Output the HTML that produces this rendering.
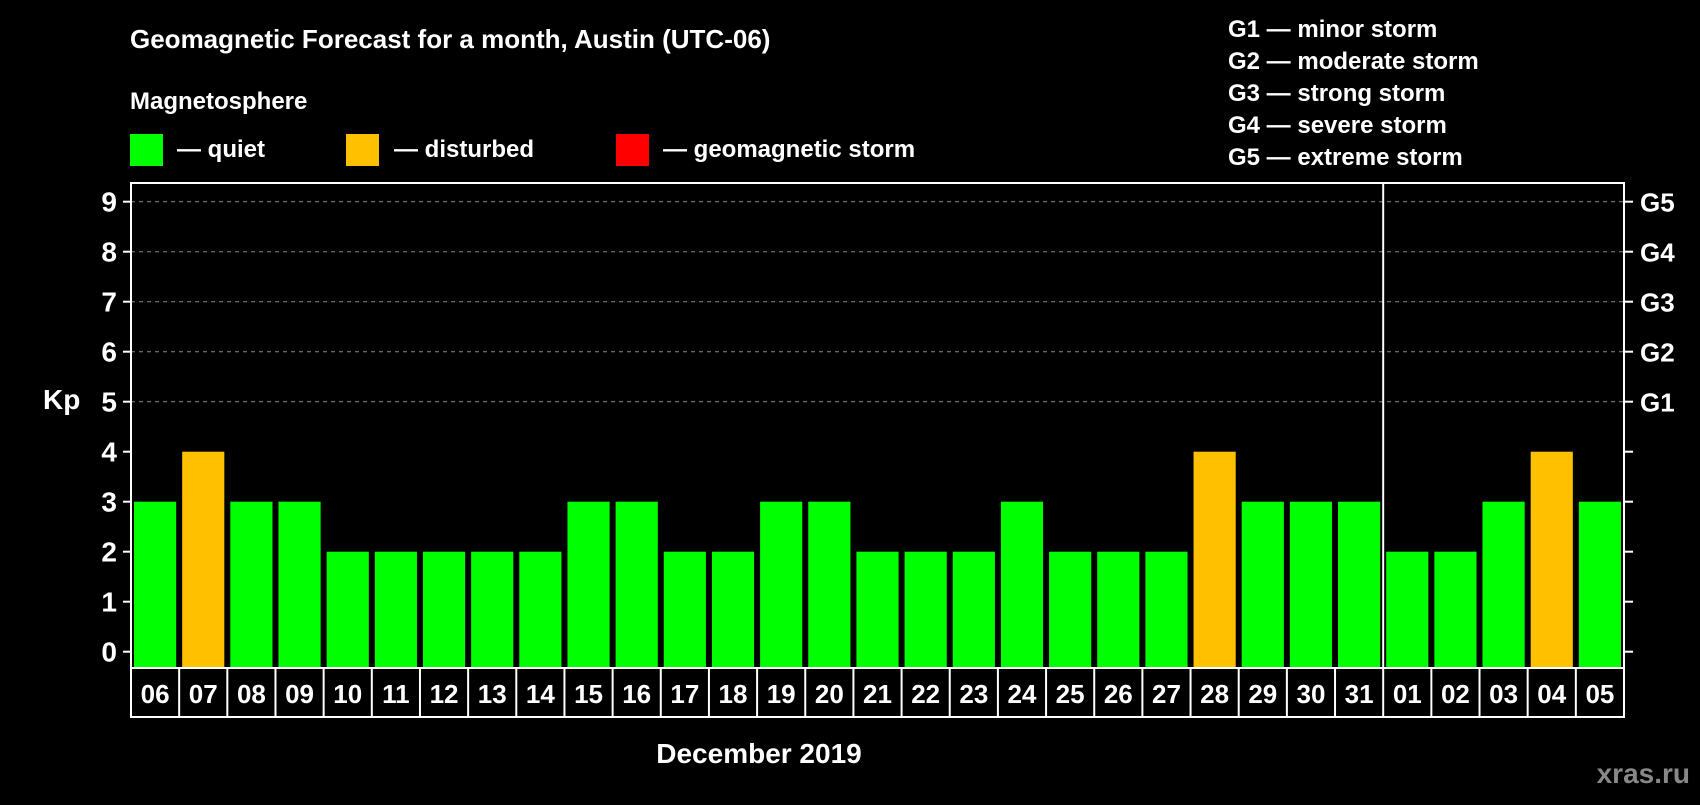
<!DOCTYPE html>
<html><head><meta charset="utf-8"><style>
body{margin:0;background:#000;width:1700px;height:800px;overflow:hidden}
svg text{font-family:"Liberation Sans",Arial,sans-serif;font-weight:bold;fill:#fff}
</style></head><body>
<svg id="chart" width="1700" height="800" xmlns="http://www.w3.org/2000/svg">
<rect width="1700" height="800" fill="#000"/>
<text x="130" y="48" font-size="26">Geomagnetic Forecast for a month, Austin (UTC-06)</text>
<text x="130" y="109" font-size="24">Magnetosphere</text>
<rect x="130" y="134" width="33" height="32" fill="#00ff00"/>
<text x="177" y="157" font-size="24">— quiet</text>
<rect x="346" y="134" width="33" height="32" fill="#ffc000"/>
<text x="394" y="157" font-size="24">— disturbed</text>
<rect x="616" y="134" width="33" height="32" fill="#ff0000"/>
<text x="663" y="157" font-size="24">— geomagnetic storm</text>
<g font-size="24">
<text x="1228" y="37">G1 — minor storm</text>
<text x="1228" y="69">G2 — moderate storm</text>
<text x="1228" y="101">G3 — strong storm</text>
<text x="1228" y="133">G4 — severe storm</text>
<text x="1228" y="165">G5 — extreme storm</text>
</g>
<text x="43" y="409" font-size="28">Kp</text>
<text x="759" y="763" font-size="28" text-anchor="middle">December 2019</text>
<text x="1690" y="783" font-size="28" text-anchor="end" style="fill:#888">xras.ru</text>
<g id="plot"></g>
</svg>
<script>
const days=["06","07","08","09","10","11","12","13","14","15","16","17","18","19","20","21","22","23","24","25","26","27","28","29","30","31","01","02","03","04","05"];
const kp=[3,4,3,3,2,2,2,2,2,3,3,2,2,3,3,2,2,2,3,2,2,2,4,3,3,3,2,2,3,4,3];
const yTicks=[0,1,2,3,4,5,6,7,8,9];
const gLabels=["G1","G2","G3","G4","G5"];
const NS="http://www.w3.org/2000/svg";
const L=131,R=1624,T=183,B=668,cw=(R-L)/days.length;
const y=v=>651.7-v*50;
const x=i=>L+i*cw;
const g=document.getElementById('plot');
function el(t,a){const e=document.createElementNS(NS,t);for(const k in a)e.setAttribute(k,a[k]);g.appendChild(e);return e;}
yTicks.forEach(v=>{
 if(v>=5){const l=el('line',{x1:L,x2:R,y1:y(v),y2:y(v),stroke:'#888','stroke-dasharray':'4,4','stroke-width':1});
 
 }
 const t1=el('line',{x1:L-8,x2:L,y1:y(v),y2:y(v),stroke:'#fff','stroke-width':2});
 
 
 const t2=el('line',{x1:R,x2:R+9,y1:y(v),y2:y(v),stroke:'#fff','stroke-width':2});
 
 
 const tx=el('text',{x:L-14,y:y(v)+10,'font-size':28,'text-anchor':'end'});tx.textContent=v;
 
 
 if(v>=5){const gt=el('text',{x:R+16,y:y(v)+10,'font-size':26});gt.textContent=gLabels[v-5];
 
 }
});
kp.forEach((v,i)=>{
 const b=el('rect',{x:x(i)+3,y:y(v),width:cw-6,height:B-y(v),fill:v>=5?'#ff0000':v>=4?'#ffc000':'#00ff00'});
 
 
});
const frame=el('rect',{x:L,y:T,width:R-L,height:B-T,fill:'none',stroke:'#fff','stroke-width':2});


const sepIdx=days.indexOf("01");
const sep=el('line',{x1:x(sepIdx),x2:x(sepIdx),y1:T,y2:B,stroke:'#fff','stroke-width':2});


const box=el('rect',{x:L,y:B,width:R-L,height:49,fill:'none',stroke:'#fff','stroke-width':2});


days.forEach((d,i)=>{
 if(i>0){const dl=el('line',{x1:x(i),x2:x(i),y1:B,y2:B+49,stroke:'#fff','stroke-width':2});
 
 }
 const t=el('text',{x:x(i)+cw/2,y:B+35,'font-size':26,'text-anchor':'middle'});t.textContent=d;
 
 
});
</script>
</body></html>
